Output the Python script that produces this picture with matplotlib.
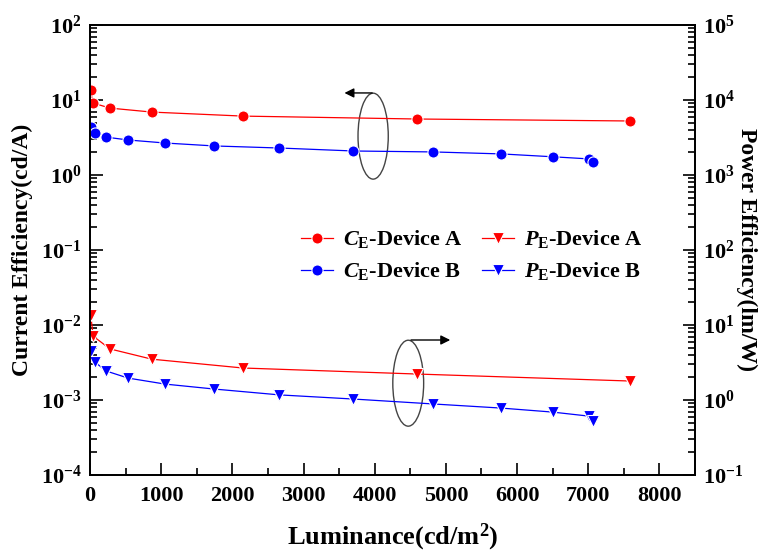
import numpy as np
import matplotlib
matplotlib.use('Agg')
import matplotlib.pyplot as plt
from matplotlib.patches import Ellipse
from matplotlib.ticker import FuncFormatter, MultipleLocator

plt.rcParams['font.family'] = 'Liberation Serif'
plt.rcParams['font.weight'] = 'bold'
plt.rcParams['axes.labelweight'] = 'bold'
plt.rcParams['mathtext.fontset'] = 'custom'
plt.rcParams['mathtext.rm'] = 'Liberation Serif:bold'
plt.rcParams['mathtext.it'] = 'Liberation Serif:italic:bold'
plt.rcParams['mathtext.bf'] = 'Liberation Serif:bold'

# device A
lum_a = [10, 45, 280, 870, 2150, 4590, 7590]
ce_a = [13.6, 9.1, 7.8, 6.9, 6.1, 5.58, 5.25]
pe_a = [13.6, 7.1, 4.8, 3.5, 2.67, 2.22, 1.79]

# device B
lum_b = [14, 70, 225, 535, 1055, 1745, 2660, 3700, 4825, 5780, 6500, 7005, 7060]
ce_b = [4.36, 3.6, 3.2, 2.93, 2.67, 2.44, 2.29, 2.09, 2.03, 1.91, 1.75, 1.64, 1.49]
pe_b = [4.5, 3.2, 2.44, 1.96, 1.63, 1.40, 1.17, 1.03, 0.885, 0.78, 0.69, 0.61, 0.525]

red = '#ff0000'
blue = '#0000ff'

fig = plt.figure(figsize=(7.66, 5.55), dpi=100)
ax = fig.add_axes([90/766, 80/555, 605/766, 450/555])
ax2 = ax.twinx()

kw = dict(lw=0.9, markeredgecolor='white', markeredgewidth=0.8)
l1, = ax.plot(lum_a, ce_a, '-o', color=red, ms=8, markerfacecolor=red, **kw)
l2, = ax.plot(lum_b, ce_b, '-o', color=blue, ms=8, markerfacecolor=blue, **kw)
l3, = ax2.plot(lum_a, pe_a, '-v', color=red, ms=9, markerfacecolor=red, **kw)
l4, = ax2.plot(lum_b, pe_b, '-v', color=blue, ms=9, markerfacecolor=blue, **kw)

ax.set_yscale('log')
ax2.set_yscale('log')
ax.set_ylim(1e-4, 1e2)
ax2.set_ylim(1e-1, 1e5)
ax.set_xlim(0, 8500)
ax.xaxis.set_major_locator(MultipleLocator(1000))
ax.xaxis.set_minor_locator(MultipleLocator(500))

fmt = FuncFormatter(lambda v, p: r'$\mathbf{10^{%d}}$' % round(np.log10(v)))
ax.yaxis.set_major_formatter(fmt)
ax2.yaxis.set_major_formatter(fmt)

for a in (ax, ax2):
    a.tick_params(which='both', direction='in', width=1.2, labelsize=16)
    a.tick_params(which='major', length=9)
    a.tick_params(which='minor', length=5)
    for s in a.spines.values():
        s.set_linewidth(1.3)
ax.tick_params(axis='x', pad=8)
ax.tick_params(axis='y', pad=6)
ax2.tick_params(axis='y', pad=6)

ax.set_xlabel('Luminance(cd/m$^{2}$)', fontsize=19, labelpad=11)
ax.set_ylabel('Current Efficiency(cd/A)', fontsize=17, labelpad=6)
ax2.set_ylabel('Power Efficiency(lm/W)', fontsize=17, rotation=270, labelpad=10)

# ellipses with arrows
ax.add_patch(Ellipse((0.468, 0.753), 0.05, 0.191, transform=ax.transAxes,
                     fill=False, ec='#444444', lw=1.0))
ax.annotate('', xy=(0.416, 0.849), xytext=(0.471, 0.849), xycoords='axes fraction',
            arrowprops=dict(arrowstyle='-|>', color='black', lw=1.0, mutation_scale=14))
ax.add_patch(Ellipse((0.526, 0.204), 0.051, 0.191, transform=ax.transAxes,
                     fill=False, ec='#444444', lw=1.0))
ax.annotate('', xy=(0.6, 0.30), xytext=(0.526, 0.30), xycoords='axes fraction',
            arrowprops=dict(arrowstyle='-|>', color='black', lw=1.0, mutation_scale=14))

labels = [r'$\mathit{C}_\mathbf{E}$-Device A', r'$\mathit{C}_\mathbf{E}$-Device B',
          r'$\mathit{P}_\mathbf{E}$-Device A', r'$\mathit{P}_\mathbf{E}$-Device B']
ax2.legend([l1, l2, l3, l4], labels, ncol=2, frameon=False, fontsize=16,
           loc='upper left', bbox_to_anchor=(0.349, 0.548), borderpad=0,
           handlelength=1.45, handletextpad=0.45, columnspacing=0.85,
           labelspacing=0.45, borderaxespad=0)

fig.savefig('out.png', dpi=100)
